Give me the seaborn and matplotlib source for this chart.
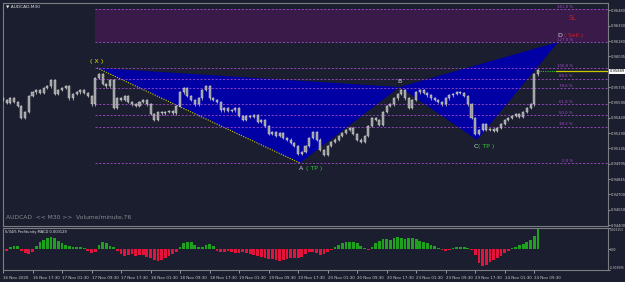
import numpy as np
import pandas as pd
import matplotlib
matplotlib.use("Agg")
import matplotlib.pyplot as plt
import seaborn as sns
from matplotlib.patches import Polygon

# ---------------- data ----------------
close = [0.95610, 0.95581, 0.95629, 0.95591, 0.95552, 0.95436, 0.95494, 0.95649, 0.95687, 0.95707,
         0.95678, 0.95726, 0.95745, 0.95803, 0.95668, 0.95707, 0.95726, 0.95745, 0.95629, 0.95668,
         0.95687, 0.95707, 0.95678, 0.95649, 0.95571, 0.95823, 0.95861, 0.95765, 0.95745, 0.95803,
         0.95533, 0.95629, 0.95610, 0.95649, 0.95591, 0.95571, 0.95552, 0.95591, 0.95610, 0.95571,
         0.95475, 0.95417, 0.95494, 0.95484, 0.95494, 0.95504, 0.95484, 0.95552, 0.95687, 0.95726,
         0.95649, 0.95610, 0.95571, 0.95629, 0.95707, 0.95745, 0.95629, 0.95610, 0.95591, 0.95513,
         0.95533, 0.95504, 0.95513, 0.95533, 0.95455, 0.95417, 0.95455, 0.95446, 0.95465, 0.95397,
         0.95417, 0.95359, 0.95281, 0.95301, 0.95262, 0.95291, 0.95243, 0.95224, 0.95194, 0.95165,
         0.95088, 0.95107, 0.95165, 0.95243, 0.95301, 0.95224, 0.95127, 0.95078, 0.95165, 0.95204,
         0.95224, 0.95262, 0.95291, 0.95320, 0.95339, 0.95281, 0.95224, 0.95204, 0.95262, 0.95359,
         0.95436, 0.95417, 0.95368, 0.95494, 0.95552, 0.95571, 0.95629, 0.95668, 0.95707, 0.95629,
         0.95533, 0.95610, 0.95687, 0.95707, 0.95678, 0.95658, 0.95629, 0.95610, 0.95591, 0.95571,
         0.95629, 0.95658, 0.95668, 0.95687, 0.95678, 0.95649, 0.95571, 0.95436, 0.95281, 0.95320,
         0.95378, 0.95320, 0.95330, 0.95310, 0.95339, 0.95378, 0.95417, 0.95436, 0.95455, 0.95475,
         0.95446, 0.95494, 0.95533, 0.95571, 0.95861, 0.95900]

macd = [-0.00043, -0.00029, 0.00029, 0.00043, 0.00043, -0.00029, -0.00057, -0.00072, -0.00043, 0.00043,
        0.00100, 0.00143, 0.00172, 0.00186, 0.00172, 0.00129, 0.00086, 0.00057, 0.00043, 0.00029,
        0.00029, 0.00029, 0.00014, -0.00029, -0.00057, -0.00043, 0.00057, 0.00114, 0.00086, 0.00043,
        0.00029, -0.00029, -0.00072, -0.00100, -0.00086, -0.00072, -0.00100, -0.00086, -0.00086, -0.00114,
        -0.00129, -0.00157, -0.00172, -0.00157, -0.00129, -0.00100, -0.00072, -0.00043, 0.00029, 0.00086,
        0.00114, 0.00100, 0.00057, 0.00029, 0.00029, 0.00057, 0.00072, 0.00043, -0.00029, -0.00043,
        -0.00043, -0.00029, -0.00043, -0.00057, -0.00057, -0.00043, -0.00057, -0.00072, -0.00086, -0.00100,
        -0.00114, -0.00129, -0.00143, -0.00143, -0.00157, -0.00172, -0.00157, -0.00143, -0.00129, -0.00129,
        -0.00129, -0.00114, -0.00072, -0.00043, -0.00043, -0.00057, -0.00086, -0.00072, -0.00043, -0.00014,
        0.00029, 0.00057, 0.00086, 0.00100, 0.00114, 0.00114, 0.00086, 0.00043, 0.00014, -0.00014,
        0.00029, 0.00086, 0.00129, 0.00157, 0.00157, 0.00143, 0.00172, 0.00186, 0.00172, 0.00157,
        0.00172, 0.00172, 0.00157, 0.00129, 0.00114, 0.00086, 0.00057, 0.00043, 0.00014, -0.00014,
        -0.00029, -0.00014, 0.00014, 0.00029, 0.00029, 0.00029, 0.00014, -0.00014, -0.00086, -0.00200,
        -0.00257, -0.00229, -0.00186, -0.00157, -0.00129, -0.00100, -0.00057, -0.00029, 0.00014, 0.00029,
        0.00057, 0.00072, 0.00100, 0.00143, 0.00200, 0.00313]

time_labels = ["16 Nov 2020", "16 Nov 17:30", "17 Nov 01:30", "17 Nov 09:30", "17 Nov 17:30",
               "18 Nov 01:30", "18 Nov 09:30", "18 Nov 17:30", "19 Nov 01:30", "19 Nov 09:30",
               "19 Nov 17:30", "20 Nov 01:30", "20 Nov 09:30", "20 Nov 17:30", "23 Nov 01:30",
               "23 Nov 09:30", "23 Nov 17:30", "24 Nov 01:30", "24 Nov 09:30"]

price_ticks = [0.96480, 0.96330, 0.96180, 0.96035, 0.95885, 0.95735, 0.95590, 0.95440,
               0.95290, 0.95145, 0.94995, 0.94845, 0.94700, 0.94550, 0.94400]

fib_ratios = [1.618, 1.27, 1.0, 0.886, 0.786, 0.618, 0.5, 0.382, 0.0]
fib_labels = ["161.8 %", "127.0 %", "100.0 %", "88.6 %", "78.6 %", "61.8 %", "50.0 %", "38.2 %", "0.0 %"]

pattern_names = ["X", "A", "B", "C", "D"]
pattern_bars = [51, 161, 215, 257, 301]
pattern_prices = [0.95920, 0.95001, 0.95736, 0.95224, 0.96171]

current_price = 0.95889
macd_ticks = [0.003153, 0.0, -0.003095]
macd_tick_labels = ["0.003153", "0.00", "-0.003095"]
macd_title = "5/34/5 Profitunity MACD 0.003129"

# ---------------- style ----------------
BG = "#1b1e2e"
FRAME = "#7c7c84"
TXT = "#c8c8c8"
PURPLE = "#a04cc8"
sns.set_theme(style="dark", rc={"axes.facecolor": BG, "figure.facecolor": BG})
plt.rcParams["font.family"] = ["DejaVu Sans"]

W, H = 625, 282
fig = plt.figure(figsize=(W / 100, H / 100), dpi=100)
ax = fig.add_axes([3 / W, (H - 226) / H, 605 / W, 223 / H])
ax2 = fig.add_axes([3 / W, (H - 270) / H, 605 / W, 42 / H])

XMAX = 328
bars = 2 * np.arange(len(close))
c = np.array(close)
o = np.concatenate([[c[0] + 0.0002], c[:-1]])
lo_body = np.minimum(o, c)
hi_body = np.maximum(o, c)
body_h = np.maximum(hi_body - lo_body, 0.00003)

X, A, B, C, D = pattern_prices
xa = X - A
fib_prices = [A + r * xa for r in fib_ratios]

# SL zone between 161.8 % and 127 %
ax.fill_between([pattern_bars[0] - 1, XMAX], fib_prices[1], fib_prices[0], color="#3a1a48", lw=0, zorder=0)

# harmonic triangles
pts = list(zip(pattern_bars, pattern_prices))
ax.add_patch(Polygon([pts[0], pts[1], pts[2]], closed=True, color="#0000a4", lw=0, zorder=1))
ax.add_patch(Polygon([pts[2], pts[3], pts[4]], closed=True, color="#0000a4", lw=0, zorder=1))
ax.plot([pts[0][0], pts[1][0]], [pts[0][1], pts[1][1]], color="#d2d200", lw=0.8, ls=(0, (1, 1.2)), zorder=2)

# fib levels
for p, lab in zip(fib_prices, fib_labels):
    ax.plot([pattern_bars[0] - 1, XMAX], [p, p], color=PURPLE, lw=0.6, ls=(0, (2.5, 2)), zorder=2)
    ax.text(309, p + 0.00004, lab, color=PURPLE, fontsize=2.8, ha="right", va="bottom", zorder=5)

# candles
ax.vlines(bars, lo_body - 0.00014, hi_body + 0.00014, color="#c0c0c0", lw=0.55, zorder=3)
ax.bar(bars, body_h, bottom=lo_body, width=1.1, color="#9a9a9a", edgecolor="#e0e0e0", lw=0.3, zorder=4)

# current price line
ax.plot([290, 300], [current_price] * 2, color="#22c022", lw=0.8, ls=(0, (1, 1)), zorder=3)
ax.plot([300, XMAX], [current_price] * 2, color="#c8c800", lw=0.9, zorder=3)

# labels of pattern points
ax.annotate("( X )", pts[0], xytext=(-0.5, 2.5), textcoords="offset points", color="#e6e600",
            fontsize=4.6, ha="center", va="bottom", zorder=6)
ax.annotate("B", pts[2], xytext=(0, 2.2), textcoords="offset points", color="#d0d0f0",
            fontsize=4.6, ha="center", va="bottom", zorder=6)
ax.annotate("A", pts[1], xytext=(1.2, -2.2), textcoords="offset points", color="#d0d0e8",
            fontsize=4.6, ha="center", va="top", zorder=6)
ax.annotate("( TP )", pts[1], xytext=(10, -2.2), textcoords="offset points", color="#32c832",
            fontsize=4.4, ha="center", va="top", zorder=6)
ax.annotate("C", pts[3], xytext=(-0.8, -2.8), textcoords="offset points", color="#d0d0e8",
            fontsize=4.6, ha="center", va="top", zorder=6)
ax.annotate("( TP )", pts[3], xytext=(6.5, -2.8), textcoords="offset points", color="#32c832",
            fontsize=4.4, ha="center", va="top", zorder=6)
ax.annotate("D", pts[4], xytext=(1.0, 2.8), textcoords="offset points", color="#d8d0f0",
            fontsize=4.6, ha="center", va="bottom", zorder=6)
ax.annotate("( Sell )", pts[4], xytext=(4.5, 2.6), textcoords="offset points", color="#d21e28",
            fontsize=4.2, ha="left", va="bottom", zorder=6)
ax.text(309, (fib_prices[0] + fib_prices[1]) / 2 + 0.00075, "SL", color="#c8202a", fontsize=4.8,
        ha="center", va="center", zorder=6)

ax.text(0.005, 0.993, "\u25bc AUDCAD,M30", transform=ax.transAxes, color="#e0e0e0", fontsize=3.2,
        ha="left", va="top")
ax.text(0.005, 0.03, "AUDCAD  << M30 >>  Volume/minute,76", transform=ax.transAxes, color="#8a8a92",
        fontsize=4.3, ha="left", va="bottom")

ax.set_xlim(0, XMAX)
ax.set_ylim(0.94392, 0.96548)
ax.yaxis.tick_right()
ax.set_yticks(price_ticks)
ax.set_yticklabels(["" if abs(t - current_price) < 0.0001 else f"{t:.5f}" for t in price_ticks])
ax.set_xticks([])
ax.tick_params(axis="y", colors=TXT, labelsize=2.6, length=1.5, width=0.5, direction="out", pad=0.6,
               left=False, right=True)
ax.text(1.003, current_price, f"{current_price:.5f}", transform=ax.get_yaxis_transform(), color="black",
        fontsize=2.6, ha="left", va="center", clip_on=False, zorder=10,
        bbox=dict(boxstyle="square,pad=0.15", fc="white", ec="white", lw=0))

# MACD histogram through seaborn
df = pd.DataFrame({"bar": bars, "macd": macd})
df["dir"] = np.where(df["macd"] >= 0, "up", "down")
sns.barplot(data=df, x="bar", y="macd", hue="dir", palette={"up": "#1fa01f", "down": "#e0143c"},
            native_scale=True, width=0.75, dodge=False, errorbar=None, saturation=1, linewidth=0,
            legend=False, ax=ax2)
ax2.set_xlim(0, XMAX)
ax2.set_ylim(-0.003095, 0.003153)
ax2.set_xlabel("")
ax2.set_ylabel("")
ax2.yaxis.tick_right()
ax2.set_yticks(macd_ticks)
ax2.set_yticklabels(macd_tick_labels)
ax2.tick_params(axis="y", colors=TXT, labelsize=2.1, length=1.2, width=0.5, pad=0.4, left=False, right=True)
ylabs = ax2.get_yticklabels()
ylabs[0].set_va("top")
ylabs[-1].set_va("bottom")
ax2.set_xticks([16 * k for k in range(len(time_labels))])
ax2.set_xticklabels(time_labels, ha="left")
ax2.tick_params(axis="x", colors=TXT, labelsize=2.9, length=2.5, width=0.5, pad=1.5, bottom=True)
ax2.text(0.003, 0.95, macd_title, transform=ax2.transAxes, color="#e8e8e8", fontsize=2.6,
         ha="left", va="top")

for a in (ax, ax2):
    a.grid(False)
    for s in a.spines.values():
        s.set_visible(True)
        s.set_color(FRAME)
        s.set_linewidth(0.8)

fig.savefig("out.png", dpi=100, facecolor=BG)
